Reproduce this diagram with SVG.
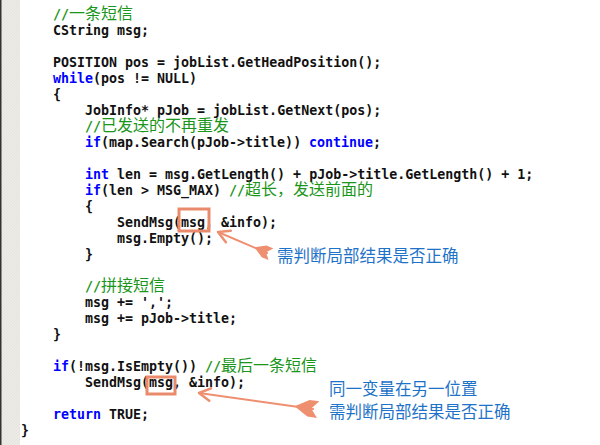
<svg xmlns="http://www.w3.org/2000/svg" width="600" height="445" viewBox="0 0 600 445">
<defs>
<style>
.c{font-family:"DejaVu Sans Mono","Liberation Mono",monospace;font-size:13.3px;font-weight:bold;fill:#111}
.k{fill:#0000ff}
.g{fill:#1a961a}
.cj{font-family:"Noto Sans CJK SC",sans-serif;font-weight:normal;font-size:16px}
.ann{font-family:"Noto Sans CJK SC",sans-serif;font-size:16.5px;fill:#1e73c8}
.box{fill:none;stroke:#ea8a6c;stroke-width:3}
.arr{stroke:#ee8f70;stroke-width:2;fill:none;stroke-linecap:round}
.fl{fill:#ee8f70}
</style>
<pattern id="hatch" width="3" height="3" patternUnits="userSpaceOnUse">
<rect width="3" height="3" fill="#ecebe6"/>
<path d="M0,3 L3,0" stroke="#e0ded8" stroke-width="0.6"/>
</pattern>
<marker id="head" markerUnits="userSpaceOnUse" markerWidth="20" markerHeight="20" refX="0" refY="0" viewBox="-12 -8 16 16" orient="auto">
<path d="M-9,-5 L0,0 L-9,5" stroke="#ee8f70" stroke-width="2" fill="none" stroke-linecap="round" stroke-linejoin="round"/>
</marker>
<polygon id="fletch" points="14,0 4,-6 -3,-6 2,0 -3,6 4,6"/>
</defs>
<rect width="600" height="445" fill="#ffffff"/>
<rect x="0" y="0" width="20" height="445" fill="url(#hatch)"/>
<rect x="0" y="0" width="1.5" height="445" fill="#333"/>

<g id="code" class="c">
<text y="19"><tspan x="53" class="g">//</tspan><tspan x="69" class="g cj">一条短信</tspan></text>
<text x="53" y="35">CString msg;</text>
<text x="53" y="67">POSITION pos = jobList.GetHeadPosition();</text>
<text y="83"><tspan x="53" class="k">while</tspan><tspan x="93">(pos != NULL)</tspan></text>
<text x="53" y="99">{</text>
<text x="85" y="115">JobInfo* pJob = jobList.GetNext(pos);</text>
<text y="131"><tspan x="85" class="g">//</tspan><tspan x="101" class="g cj">已发送的不再重发</tspan></text>
<text y="147"><tspan x="85" class="k">if</tspan><tspan x="101">(map.Search(pJob-&gt;title))</tspan><tspan x="309" class="k">continue</tspan><tspan x="373">;</tspan></text>
<text y="179"><tspan x="85" class="k">int</tspan><tspan x="117">len = msg.GetLength() + pJob-&gt;title.GetLength() + 1;</tspan></text>
<text y="195"><tspan x="85" class="k">if</tspan><tspan x="101">(len &gt; MSG_MAX)</tspan><tspan x="229" class="g">//</tspan><tspan x="245" class="g cj">超长，发送前面的</tspan></text>
<text x="85" y="211">{</text>
<text x="117" y="227">SendMsg(msg, &amp;info);</text>
<text x="117" y="243">msg.Empty();</text>
<text x="85" y="259">}</text>
<text y="291"><tspan x="85" class="g">//</tspan><tspan x="101" class="g cj">拼接短信</tspan></text>
<text x="85" y="307">msg += ',';</text>
<text x="85" y="323">msg += pJob-&gt;title;</text>
<text x="53" y="339">}</text>
<text y="371"><tspan x="53" class="k">if</tspan><tspan x="69">(!msg.IsEmpty())</tspan><tspan x="205" class="g">//</tspan><tspan x="221" class="g cj">最后一条短信</tspan></text>
<text x="85" y="387">SendMsg(msg, &amp;info);</text>
<text y="419"><tspan x="53" class="k">return</tspan><tspan x="109">TRUE;</tspan></text>
<text x="21" y="435">}</text>
</g>

<g id="box1"><rect class="box" x="179" y="209" width="30" height="22"/></g>
<g id="box2"><rect class="box" x="147" y="377" width="28" height="17"/></g>

<g id="connectors">
<path class="arr" d="M267,253 L218,232" marker-end="url(#head)"/>
<use href="#fletch" class="fl" transform="translate(268,253) rotate(202.8) scale(1.05)"/>
<path class="arr" d="M313,409 L199,393" marker-end="url(#head)"/>
<use href="#fletch" class="fl" transform="translate(314,409) rotate(188) scale(1.4)"/>
</g>

<g id="note1"><text class="ann" x="277" y="262">需判断局部结果是否正确</text></g>
<g id="note2">
<text class="ann" x="329" y="395">同一变量在另一位置</text>
<text class="ann" x="329" y="418">需判断局部结果是否正确</text>
</g>
</svg>
